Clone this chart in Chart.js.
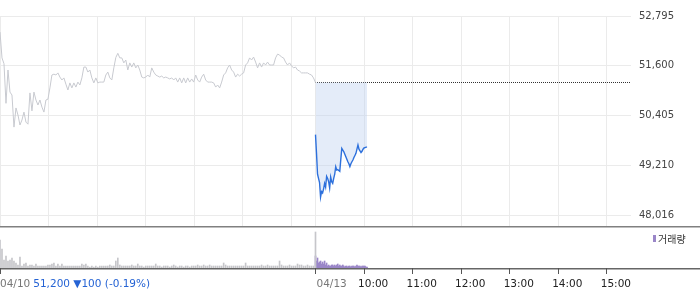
<!DOCTYPE html>
<html>
<head>
<meta charset="utf-8">
<script src="https://cdn.jsdelivr.net/npm/chart.js@4/dist/chart.umd.min.js"></script>
<style>
  body { margin: 0; background: #fff; }
  #wrap { position: relative; width: 700px; height: 289px; }
  canvas { display: block; }
</style>
</head>
<body>
<div id="wrap">
  <canvas id="priceChart" width="700" height="226"></canvas>
  <canvas id="volumeChart" width="700" height="63"></canvas>
</div>
<script>
// dati (minuti dalle 09:00 del 04/10, due sedute da 390 minuti)
var prevClose = 51200;
var priceTicks = [48016, 49210, 50405, 51600, 52795];
var gridMinutes = [0, 60, 120, 180, 240, 300, 360, 390, 450, 510, 570, 630, 690, 750];
var tickMinutes = [0, 390, 450, 510, 570, 630, 690, 750];
var tickLabels = ['04/10', '04/13', '10:00', '11:00', '12:00', '13:00', '14:00', '15:00'];
var summaryText = '51,200 \u25BC100 (-0.19%)';
var legendText = '거래량';

var day1Price = [52410, 51790, 51650, 50700, 51500, 50970, 50900, 50130, 50590, 50420,
  50180, 50300, 50490, 50250, 50200, 50950, 50520, 50970, 50780, 50660,
  50780, 50610, 50490, 50780, 50800, 51070, 51380, 51400, 51380, 51430,
  51330, 51260, 51310, 51160, 51020, 51190, 51070, 51190, 51090, 51210,
  51140, 51310, 51570, 51570, 51450, 51500, 51310, 51190, 51310, 51190,
  51210, 51210, 51210, 51380, 51450, 51310, 51260, 51550, 51800, 51900,
  51790, 51790, 51670, 51740, 51500, 51670, 51570, 51670, 51550, 51620,
  51500, 51330, 51310, 51330, 51380, 51330, 51550, 51450, 51380, 51355,
  51330, 51355, 51310, 51330, 51310, 51285, 51310, 51260, 51310, 51210,
  51310, 51190, 51310, 51190, 51310, 51210, 51285, 51210, 51380, 51260,
  51210, 51330, 51400, 51260, 51210, 51210, 51210, 51190, 51090, 51140,
  51070, 51210, 51380, 51430, 51550, 51620, 51500, 51450, 51330, 51400,
  51355, 51400, 51430, 51620, 51670, 51790, 51740, 51810, 51690, 51550,
  51670, 51570, 51670, 51620, 51690, 51620, 51620, 51620, 51790, 51880,
  51860, 51810, 51790, 51690, 51620, 51670, 51600, 51550, 51570, 51500,
  51475, 51430, 51430, 51430, 51430, 51400, 51380, 51310, 51200];

var day2Price = [49950, 49500, 49000, 48900, 48800, 48450, 48580, 48550, 48650, 48780,
  48690, 48950, 48900, 48820, 48670, 48930, 48820, 48780, 48900, 49000,
  49180, 49100, 49110, 49090, 49070, 49350, 49620, 49580, 49540, 49480,
  49420, 49360, 49300, 49250, 49180, 49250, 49300, 49340, 49400, 49450,
  49500, 49600, 49700, 49600, 49560, 49520, 49550, 49600, 49630, 49640,
  49650, 49650];

var day1Volume = [280, 190, 80, 120, 70, 80, 100, 70, 50, 30,
  110, 20, 40, 50, 20, 30, 30, 20, 40, 20,
  20, 20, 20, 20, 30, 30, 40, 50, 20, 40,
  20, 40, 20, 20, 20, 20, 20, 20, 20, 20,
  20, 40, 30, 40, 20, 10, 20, 10, 20, 10,
  20, 20, 20, 20, 20, 30, 20, 20, 70, 100,
  30, 20, 20, 20, 20, 20, 30, 20, 20, 40,
  20, 20, 10, 20, 20, 20, 20, 20, 40, 20,
  20, 10, 20, 20, 20, 10, 20, 30, 20, 10,
  20, 20, 10, 20, 20, 10, 20, 20, 20, 30,
  20, 20, 30, 20, 20, 30, 20, 20, 20, 20,
  20, 20, 50, 30, 20, 20, 20, 20, 20, 20,
  20, 20, 20, 50, 20, 20, 20, 20, 20, 20,
  20, 30, 20, 20, 30, 20, 20, 20, 20, 20,
  70, 30, 20, 20, 20, 30, 20, 20, 20, 40,
  30, 30, 20, 20, 30, 20, 20, 20, 360];

var day2Volume = [120, 70, 100, 50, 60, 70, 40, 60, 40, 70,
  30, 50, 20, 30, 20, 20, 30, 30, 20, 30,
  20, 30, 40, 20, 30, 20, 20, 30, 20, 10,
  20, 20, 10, 20, 20, 10, 20, 20, 20, 10,
  20, 30, 20, 20, 20, 10, 20, 20, 20, 20,
  10, 10];

//Funzione per trasformare una serie in punti {x: minuti, y: valore}
function toPoints (values, start, step) {
  var points = [];
  for (var i = 0; i < values.length; i++) {
    points.push({ x: start + i * step, y: values[i] });
  }
  return points;
}

var day1Step = 390 / (day1Price.length - 1);
var day2Step = 1.25;

//Funzione per forzare la larghezza dell'asse a destra
function fixAxis (scale) {
  scale.width = 69;
  scale.paddingTop = 0;
  scale.paddingBottom = 0;
}

//Grafico del prezzo
function priceChart () {
  var ctx = document.getElementById('priceChart').getContext('2d');
  new Chart(ctx, {
    type: 'line',
    data: {
      datasets: [{
        data: toPoints(day1Price, 0, day1Step),
        borderColor: '#c8cad0',
        borderWidth: 1,
        pointRadius: 0,
        fill: false
      }, {
        data: toPoints(day2Price, 390, day2Step),
        borderColor: '#2d70dc',
        borderWidth: 1.4,
        pointRadius: 0,
        backgroundColor: 'rgba(190, 210, 240, 0.42)',
        fill: { value: prevClose }
      }, {
        data: [{ x: 390, y: prevClose }, { x: 780, y: prevClose }],
        borderColor: '#333',
        borderWidth: 1,
        borderDash: [1, 1],
        borderDashOffset: 0.5,
        pointRadius: 0,
        fill: false
      }]
    },
    options: {
      responsive: false,
      animation: false,
      events: [],
      layout: { padding: { top: 16, left: 0, right: 0, bottom: 0 } },
      plugins: { legend: { display: false }, tooltip: { enabled: false } },
      scales: {
        x: {
          type: 'linear', min: 0, max: 780,
          afterBuildTicks: function (s) { s.ticks = gridMinutes.map(function (v) { return { value: v }; }); },
          ticks: { display: false },
          grid: { color: '#ebebeb', drawTicks: false },
          border: { display: false }
        },
        y: {
          position: 'right', min: 47758, max: 52795,
          afterBuildTicks: function (s) { s.ticks = priceTicks.map(function (v) { return { value: v }; }); },
          afterFit: fixAxis,
          ticks: {
            padding: 8,
            color: '#444',
            font: { family: 'DejaVu Sans', size: 10 },
            callback: function (v) { return v.toLocaleString('en-US'); }
          },
          grid: { color: '#ebebeb', drawTicks: false },
          border: { display: false }
        }
      }
    }
  });
}

//Plugin per linee di separazione, tacche, etichette in basso e legenda
var bottomText = {
  id: 'bottomText',
  afterDraw: function (chart) {
    var c = chart.ctx;
    var xs = chart.scales.x;
    var area = chart.chartArea;
    c.save();
    c.fillStyle = '#808080';
    c.fillRect(0, 0, chart.width, 1.5);
    c.fillStyle = '#666';
    c.fillRect(0, area.bottom, chart.width, 1.5);

    c.font = '10.5px "DejaVu Sans"';
    c.textBaseline = 'alphabetic';
    c.textAlign = 'left';
    for (var i = 0; i < tickMinutes.length; i++) {
      var px = xs.getPixelForValue(tickMinutes[i]);
      // tacca sotto l'asse
      c.fillStyle = '#555';
      c.fillRect(Math.max(0, Math.round(px - 0.5)), area.bottom, 1, 6);
      var label = tickLabels[i];
      if (label.indexOf('/') > -1) {
        c.fillStyle = '#777';
        c.fillText(label, px + (i == 0 ? 0 : 1), 61);
        if (i == 0) {
          c.fillStyle = '#2563d4';
          c.fillText(summaryText, px + c.measureText(label).width + 3, 61);
        }
      } else {
        c.fillStyle = '#222';
        c.fillText(label, px - 6, 61);
      }
    }

    // legenda
    c.fillStyle = '#9a86c8';
    c.fillRect(653, 9, 3, 7);
    c.fillStyle = '#333';
    c.font = '10px "Noto Sans CJK KR"';
    c.textBaseline = 'middle';
    c.fillText(legendText, 658, 13);
    c.restore();
  }
};

//Grafico dei volumi
function volumeChart () {
  var ctx = document.getElementById('volumeChart').getContext('2d');
  new Chart(ctx, {
    type: 'bar',
    data: {
      datasets: [{
        data: toPoints(day1Volume, 0, day1Step),
        backgroundColor: '#c6c6ca',
        barThickness: 1,
        grouped: false
      }, {
        data: toPoints(day2Volume, 390, day2Step),
        backgroundColor: '#9a86c8',
        barThickness: 1,
        grouped: false
      }]
    },
    options: {
      responsive: false,
      animation: false,
      events: [],
      layout: { padding: { top: 0, left: 0, right: 0, bottom: 16 } },
      plugins: { legend: { display: false }, tooltip: { enabled: false } },
      scales: {
        x: {
          type: 'linear', min: 0, max: 780, offset: false,
          afterBuildTicks: function (s) { s.ticks = tickMinutes.map(function (v) { return { value: v }; }); },
          ticks: { display: false },
          grid: { display: false, drawTicks: true, tickLength: 5 },
          border: { display: false }
        },
        y: {
          position: 'right', min: 0, max: 420,
          afterFit: fixAxis,
          ticks: { display: false },
          grid: { display: false },
          border: { display: false }
        }
      }
    },
    plugins: [bottomText]
  });
}

function init () {
  priceChart();
  volumeChart();
}

init();
</script>
</body>
</html>
